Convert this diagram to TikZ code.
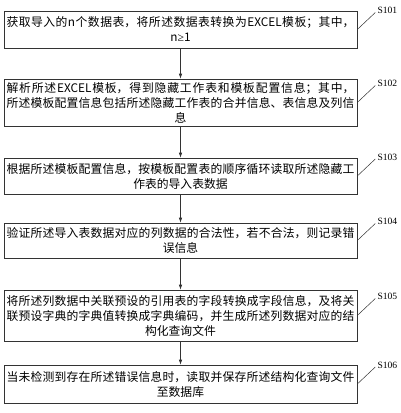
\documentclass[tikz,border=0pt]{standalone}
\usepackage{fontspec}
\setmainfont{Liberation Serif}
\newfontfamily\cjk{Noto Sans CJK SC}
\usetikzlibrary{arrows.meta,calc}
\XeTeXlinebreaklocale "zh"
\XeTeXlinebreakskip=0pt plus 3pt
\newcommand{\cnjust}{\leftskip=0pt plus 1fil\rightskip=0pt plus -1fil\parfillskip=0pt plus 2fil}
\tikzset{
         stepbox/.style=
          {
           draw=black!80,
           line width=.6pt,
           minimum width=353pt,
           text width=348pt,
           inner xsep=2.5pt,
           inner ysep=1pt,
           align=left,
           font=\fontsize{11.8}{15}\selectfont\cjk,
           execute at begin node=\cnjust
          },
         steplabel/.style=
          {
           font=\fontsize{9.6}{10}\selectfont,
           inner sep=0pt,
           anchor=west
          }
        }

\begin{document}
\begin{tikzpicture}[x=1pt,y=-1pt,>={Latex[length=5pt,width=3.5pt]}]
\useasboundingbox(0,0)rectangle(400,413);

%steps
\node[stepbox,minimum height=37pt](s101)at(180.5,29.5){获取导入的n个数据表，将所述数据表转换为EXCEL模板；其中，\linebreak n{\normalfont ≥}1};
\node[stepbox,minimum height=47pt](s102)at(180.5,102.5){解析所述EXCEL模板，得到隐藏工作表和模板配置信息；其中，\linebreak 所述模板配置信息包括所述隐藏工作表的合并信息、表信息及列信\linebreak 息};
\node[stepbox,minimum height=36pt](s103)at(180.5,176){根据所述模板配置信息，按模板配置表的顺序循环读取所述隐藏工\linebreak 作表的导入表数据};
\node[stepbox,minimum height=35pt](s104)at(180.5,240.5){验证所述导入表数据对应的列数据的合法性，若不合法，则记录错\linebreak 误信息};
\node[stepbox,minimum height=51pt](s105)at(180.5,315.5){将所述列数据中关联预设的引用表的字段转换成字段信息，及将关\linebreak 联预设字典的字典值转换成字典编码，并生成所述列数据对应的结\linebreak 构化查询文件};
\node[stepbox,minimum height=38pt](s106)at(180.5,384){当未检测到存在所述错误信息时，读取并保存所述结构化查询文件\linebreak 至数据库};

%arrows
\foreach \a/\b in {s101/s102,s102/s103,s103/s104,s104/s105,s105/s106}{
\draw[line width=.6pt,black!80,->](\a.south)--(\b.north);
}

%labels
\foreach \n in {101,...,106}{
\draw[line width=.5pt,black!80](s\n.east)--++(18,-17)coordinate(t\n);
\node[steplabel](l\n)at($(t\n)+(2,-2)$){S\n};
}

\end{tikzpicture}
\end{document}
